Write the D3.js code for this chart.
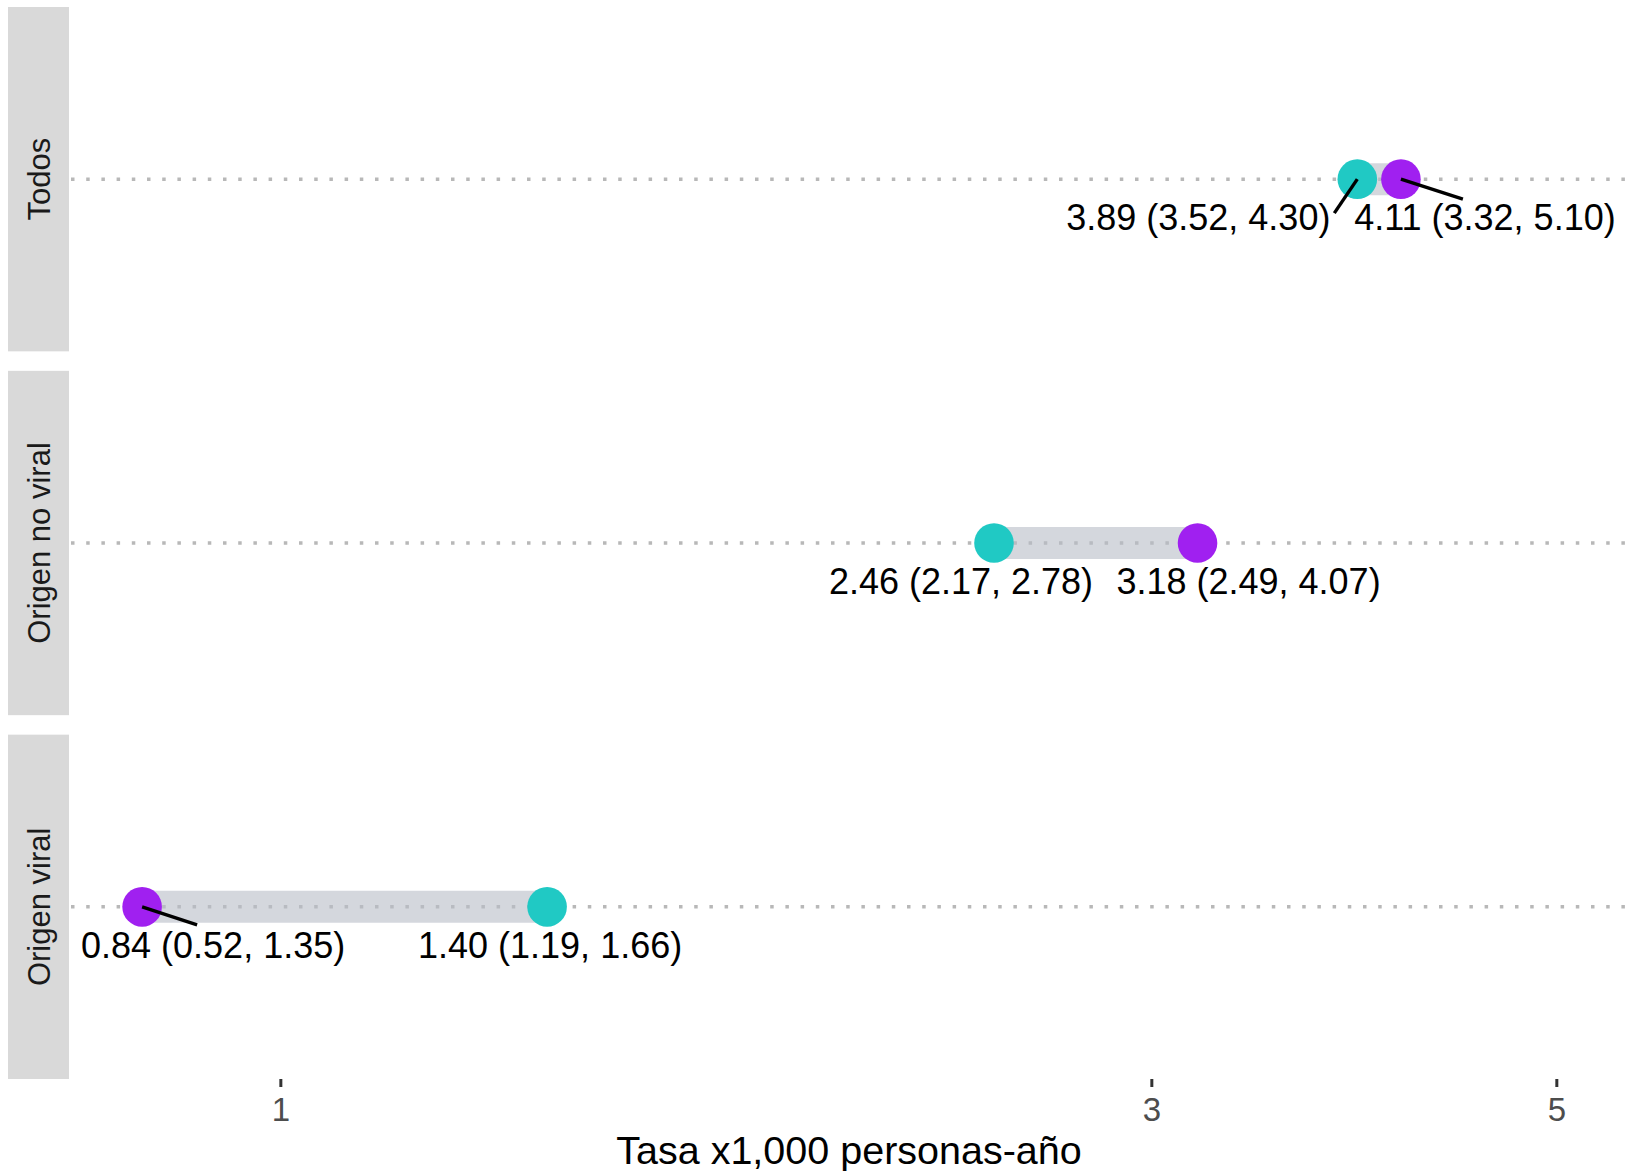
<!DOCTYPE html>
<html>
<head>
<meta charset="utf-8">
<script src="https://cdn.jsdelivr.net/npm/d3@7"></script>
<style>
  html, body { margin: 0; padding: 0; background: #ffffff; }
  svg { display: block; font-family: "Liberation Sans", Arial, Helvetica, sans-serif; }
</style>
</head>
<body>
<svg id="chart" width="1629" height="1171"></svg>
<script>
// Facet rows (top to bottom)
const categories = ["Todos", "Origen no viral", "Origen viral"];

// Group A (turquoise): rate and 95% interval
const rateA = [3.89, 2.46, 1.40];
const lowA  = [3.52, 2.17, 1.19];
const highA = [4.30, 2.78, 1.66];

// Group B (purple): rate and 95% interval
const rateB = [4.11, 3.18, 0.84];
const lowB  = [3.32, 2.49, 0.52];
const highB = [5.10, 4.07, 1.35];

// Axis
const xTicks = [1, 3, 5];
const xTitle = "Tasa x1,000 personas-año";

// ---- layout ----
const panelLeft = 69, panelRight = 1629;
const stripLeft = 8;
const panelTop = 7, panelBottom = 1079;

const colorA = "#20c9c4";
const colorB = "#a020f0";

// label placement (repelled): horizontal shift of label centre from its point,
// and leader-line end relative to the point (null = no leader)
const labelLayout = {
  "Todos|A":           { dx: -159, seg: [-23, 34] },
  "Todos|B":           { dx: 84,   seg: [62, 20] },
  "Origen no viral|A": { dx: -33,  seg: null },
  "Origen no viral|B": { dx: 51,   seg: null },
  "Origen viral|A":    { dx: 3,    seg: null },
  "Origen viral|B":    { dx: 71,   seg: [55, 18] }
};
const labelBaseline = 51;

const svg = d3.select("#chart");

const x = d3.scaleLog()
  .domain([0.766, 5.48])
  .range([panelLeft, panelRight]);

const panels = d3.scaleBand()
  .domain(categories)
  .range([panelTop, panelBottom])
  .paddingInner(0.0536)
  .paddingOuter(0);

const rowY = c => panels(c) + panels.bandwidth() / 2;

// strips
const strips = svg.append("g");
strips.selectAll("rect")
  .data(categories)
  .join("rect")
  .attr("x", stripLeft)
  .attr("y", d => panels(d))
  .attr("width", panelLeft - stripLeft)
  .attr("height", panels.bandwidth())
  .attr("fill", "#d9d9d9");

strips.selectAll("text")
  .data(categories)
  .join("text")
  .attr("transform", d => `translate(${(stripLeft + panelLeft) / 2},${rowY(d)}) rotate(-90)`)
  .attr("text-anchor", "middle")
  .attr("dy", "0.36em")
  .attr("font-size", 31)
  .attr("fill", "#1a1a1a")
  .text(d => d);

// dotted row guides
svg.append("g").selectAll("line")
  .data(categories)
  .join("line")
  .attr("x1", panelLeft + 2)
  .attr("x2", panelRight)
  .attr("y1", d => rowY(d))
  .attr("y2", d => rowY(d))
  .attr("stroke", "#b8b8b8")
  .attr("stroke-width", 3.5)
  .attr("stroke-dasharray", "3.5,11.7");

// rows of data
const rows = categories.map((c, i) => ({
  cat: c,
  a: { key: "A", v: rateA[i], lo: lowA[i], hi: highA[i], color: colorA },
  b: { key: "B", v: rateB[i], lo: lowB[i], hi: highB[i], color: colorB }
}));

// connecting bars
svg.append("g").selectAll("line")
  .data(rows)
  .join("line")
  .attr("x1", d => x(d.a.v))
  .attr("x2", d => x(d.b.v))
  .attr("y1", d => rowY(d.cat))
  .attr("y2", d => rowY(d.cat))
  .attr("stroke", "#b8bcc6")
  .attr("stroke-opacity", 0.6)
  .attr("stroke-width", 32);

const points = rows.flatMap(r => [r.a, r.b].map(p => ({ ...p, cat: r.cat })));

// points
svg.append("g").selectAll("circle")
  .data(points)
  .join("circle")
  .attr("cx", d => x(d.v))
  .attr("cy", d => rowY(d.cat))
  .attr("r", 19.8)
  .attr("fill", d => d.color);

// leader lines
svg.append("g").selectAll("line")
  .data(points.filter(d => labelLayout[d.cat + "|" + d.key].seg))
  .join("line")
  .attr("x1", d => x(d.v))
  .attr("y1", d => rowY(d.cat))
  .attr("x2", d => x(d.v) + labelLayout[d.cat + "|" + d.key].seg[0])
  .attr("y2", d => rowY(d.cat) + labelLayout[d.cat + "|" + d.key].seg[1])
  .attr("stroke", "#000")
  .attr("stroke-width", 3.4);

// value labels
const fmt = d3.format(".2f");
svg.append("g").selectAll("text")
  .data(points)
  .join("text")
  .attr("x", d => x(d.v) + labelLayout[d.cat + "|" + d.key].dx)
  .attr("y", d => rowY(d.cat) + labelBaseline)
  .attr("text-anchor", "middle")
  .attr("font-size", 36)
  .attr("fill", "#000")
  .text(d => `${fmt(d.v)} (${fmt(d.lo)}, ${fmt(d.hi)})`);

// x axis
const axis = svg.append("g")
  .attr("transform", `translate(0,${panelBottom})`)
  .call(d3.axisBottom(x).tickValues(xTicks).tickFormat(d3.format("d")).tickSize(8).tickPadding(11));
axis.select(".domain").remove();
axis.selectAll(".tick line").attr("stroke", "#333333").attr("stroke-width", 3);
axis.selectAll(".tick text")
  .attr("font-size", 33)
  .attr("fill", "#4d4d4d")
  .attr("font-family", "Liberation Sans, Arial, sans-serif");

svg.append("text")
  .attr("x", (panelLeft + panelRight) / 2)
  .attr("y", 1164)
  .attr("text-anchor", "middle")
  .attr("font-size", 39.5)
  .attr("fill", "#000")
  .text(xTitle);
</script>
</body>
</html>
